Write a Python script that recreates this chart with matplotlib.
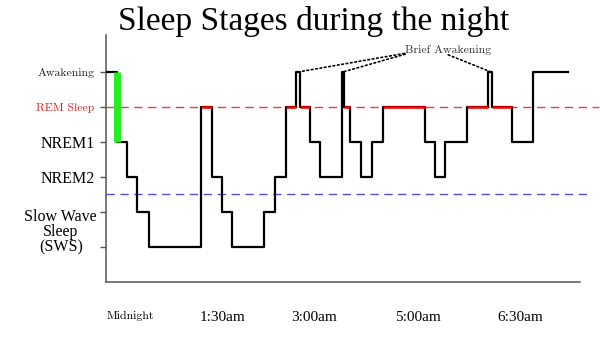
import matplotlib
matplotlib.use("Agg")
from matplotlib import pyplot as plt

# minutes after the start of the night where each stage begins, and the stage
# levels: 0/1 = slow wave, 2 = NREM2, 3 = NREM1, 4 = REM, 5 = awake
change_times = [0, 10, 20, 30, 41, 92, 103, 113, 123, 154, 165, 175, 185, 189,
                199, 209, 230, 232, 238, 249, 259, 270, 311, 321, 331, 352,
                373, 377, 396, 417, 451]
stages = [5, 3, 2, 1, 0, 4, 2, 1, 0, 1, 2, 4, 5, 4, 3, 2, 5, 4, 3, 2, 3, 4,
          3, 2, 3, 4, 5, 4, 3, 5]

stage_labels = ["Awakening", "REM Sleep", "NREM1", "NREM2"]
stage_label_levels = [5, 4, 3, 2]
sws_label = "Slow Wave\nSleep\n(SWS)"

time_labels = ["Midnight", "1:30am", "3:00am", "5:00am", "6:30am"]
time_label_pos = [23, 113, 203, 304, 404]

# brief awakenings (spike times)
brief_times = [187, 231, 375]

fig = plt.figure(figsize=(6, 3.54), dpi=100)
ax = fig.add_axes([0.177, 0.2034, 0.79, 0.698])

serif = ["Liberation Serif", "DejaVu Serif"]
cm = ["cmr10", "DejaVu Serif"]

ax.axhline(4, color="#e84040", lw=1.0, ls=(0, (6, 4)), xmax=1.04, clip_on=False)
ax.axhline(1.5, color="#5050d8", lw=1.0, ls=(0, (6, 4)), xmax=1.015, clip_on=False)

ax.step(change_times, stages + [stages[-1]], where="post", color="black",
        lw=1.6, zorder=3)

for i, s in enumerate(stages):
    if s == 4:
        ax.hlines(4, change_times[i], change_times[i + 1], color="#ff0000",
                  lw=1.8, zorder=4)

# falling asleep
ax.vlines(change_times[1], 3, 5, color="#22ee22", lw=5, zorder=5)

ax.set_xlim(-0.5, 463)
ax.set_ylim(-1.01, 6.05)

ax.spines["top"].set_visible(False)
ax.spines["right"].set_visible(False)
for sp in ["left", "bottom"]:
    ax.spines[sp].set_color("#555555")
    ax.spines[sp].set_linewidth(1.1)

ax.set_yticks([0, 1, 2, 3, 4, 5])
ax.set_yticklabels(["", ""] + stage_labels[::-1][:2] + stage_labels[:2][::-1])
ax.tick_params(axis="y", length=4.5, color="#555555", width=1.0, pad=4)
for lab, lev in zip(ax.get_yticklabels(), [0, 1, 2, 3, 4, 5]):
    if lev >= 4:
        lab.set_family(cm)
        lab.set_fontsize(8.5)
        lab.set_color("#e02020" if lev == 4 else "#222222")
    else:
        lab.set_family(serif)
        lab.set_fontsize(11.5)

ax.text(-45, 0.42, sws_label, ha="center", va="center", fontsize=11.5,
        family=serif, linespacing=0.95)

ax.set_xticks(time_label_pos)
ax.set_xticklabels(time_labels)
ax.tick_params(axis="x", length=0, pad=21)
for lab, name in zip(ax.get_xticklabels(), time_labels):
    if name == "Midnight":
        lab.set_family(cm)
        lab.set_fontsize(8.5)
    else:
        lab.set_family(serif)
        lab.set_fontsize(11)

ax.text(334, 5.62, "Brief Awakening", ha="center", va="center", fontsize=8.5,
        family=cm, color="#333333")
dotted = dict(arrowstyle="-", linestyle=":", color="black", lw=1.2,
              shrinkA=0, shrinkB=0)
ax.annotate("", xy=(brief_times[0] + 2, 5), xytext=(291, 5.52), arrowprops=dotted)
ax.annotate("", xy=(brief_times[1] + 1, 5), xytext=(292, 5.5), arrowprops=dotted)
ax.annotate("", xy=(brief_times[2], 5), xytext=(334, 5.48), arrowprops=dotted)

fig.text(0.523, 0.94, "Sleep Stages during the night", ha="center", va="center",
         fontsize=24, family=serif)

fig.savefig("out.png", dpi=100)
